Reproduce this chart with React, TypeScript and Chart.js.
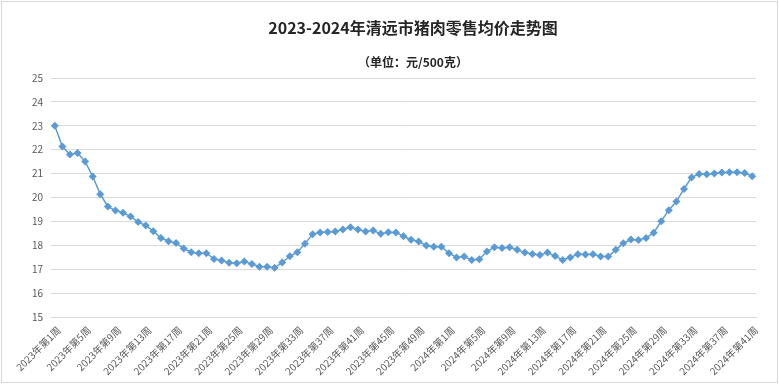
import React, { useEffect, useRef } from "react";
import { Chart, registerables } from "chart.js";

Chart.register(...registerables);

const TITLE = "2023-2024年清远市猪肉零售均价走势图";
const SUBTITLE = "（单位：元/500克）";

const years = [2023, 2024];
const weeksPerYear = [52, 41];

const categories: string[] = [];
years.forEach((y, i) => {
  for (let w = 1; w <= weeksPerYear[i]; w++) categories.push(`${y}年第${w}周`);
});

const prices = [
  23.0, 22.13, 21.8, 21.86, 21.51, 20.88, 20.14, 19.62, 19.46, 19.36,
  19.21, 18.97, 18.83, 18.59, 18.31, 18.17, 18.1, 17.87, 17.71, 17.67,
  17.67, 17.43, 17.36, 17.27, 17.25, 17.32, 17.22, 17.1, 17.1, 17.06,
  17.28, 17.54, 17.71, 18.07, 18.46, 18.54, 18.56, 18.58, 18.66, 18.76,
  18.66, 18.58, 18.62, 18.48, 18.55, 18.54, 18.38, 18.23, 18.16, 17.99,
  17.94, 17.94, 17.67, 17.49, 17.53, 17.39, 17.42, 17.74, 17.92, 17.89,
  17.92, 17.81, 17.7, 17.64, 17.59, 17.7, 17.55, 17.39, 17.49, 17.63,
  17.61, 17.63, 17.53, 17.53, 17.81, 18.09, 18.24, 18.22, 18.31, 18.52,
  19.01, 19.47, 19.83, 20.36, 20.84, 20.98, 20.97, 21.0, 21.05, 21.06,
  21.06, 21.03, 20.89,
];

const Y_MIN = 15;
const Y_MAX = 25;
const Y_STEP = 1;
const LABEL_EVERY = 4;

const FONT = '"Noto Sans CJK SC", "Noto Sans", sans-serif';

export default function App() {
  const ref = useRef<HTMLCanvasElement | null>(null);

  useEffect(() => {
    if (!ref.current) return;
    const titlePlugin = {
      id: "titles",
      afterDraw(chart: any) {
        const ctx = chart.ctx;
        ctx.save();
        ctx.textAlign = "center";
        ctx.textBaseline = "middle";
        ctx.fillStyle = "#262626";
        ctx.font = `bold 16px ${FONT}`;
        ctx.fillText(TITLE, 413, 28);
        ctx.font = `bold 12px ${FONT}`;
        ctx.fillStyle = "#262626";
        ctx.fillText(SUBTITLE, 413, 62);
        ctx.restore();
      },
    };
    const chart = new Chart(ref.current, {
      type: "line",
      data: {
        labels: categories,
        datasets: [
          {
            data: prices,
            borderColor: "#5b9bd5",
            backgroundColor: "#5b9bd5",
            borderWidth: 1.5,
            pointStyle: "rectRot",
            pointRadius: 4,
            pointBorderWidth: 0,
            tension: 0,
          },
        ],
      },
      options: {
        animation: false,
        responsive: false,
        layout: { padding: { top: 78, right: 23, left: 0, bottom: 2 } },
        plugins: {
          legend: { display: false },
          title: { display: false },
          tooltip: { enabled: false },
        },
        scales: {
          x: {
            offset: true,
            grid: { display: false, drawTicks: false },
            border: { display: true, color: "#d9d9d9" },
            ticks: {
              autoSkip: false,
              maxRotation: 45,
              minRotation: 45,
              padding: 7,
              labelOffset: 4,
              color: "#595959",
              font: { family: FONT, size: 10 },
              callback: (_v: any, i: number) =>
                i % LABEL_EVERY === 0 ? categories[i] : "",
            },
            afterFit: (s: any) => {
              s.height = 65;
            },
          },
          y: {
            min: Y_MIN,
            max: Y_MAX,
            grid: { color: "#d9d9d9", drawTicks: false },
            border: { display: false },
            ticks: {
              stepSize: Y_STEP,
              padding: 8,
              color: "#595959",
              font: { family: FONT, size: 10 },
            },
            afterFit: (s: any) => {
              s.width = 51;
            },
          },
        },
      },
      plugins: [titlePlugin],
    });
    return () => chart.destroy();
  }, []);

  return (
    <div
      style={{
        position: "fixed",
        left: 0,
        top: 0,
        width: 779,
        height: 384,
        background: "#fff",
      }}
    >
      <div
        style={{
          position: "absolute",
          left: 1,
          top: 1,
          width: 775,
          height: 380,
          border: "1px solid #d9d9d9",
        }}
      />
      <canvas
        ref={ref}
        width={779}
        height={384}
        style={{ position: "absolute", left: 0, top: 0 }}
      />
    </div>
  );
}
